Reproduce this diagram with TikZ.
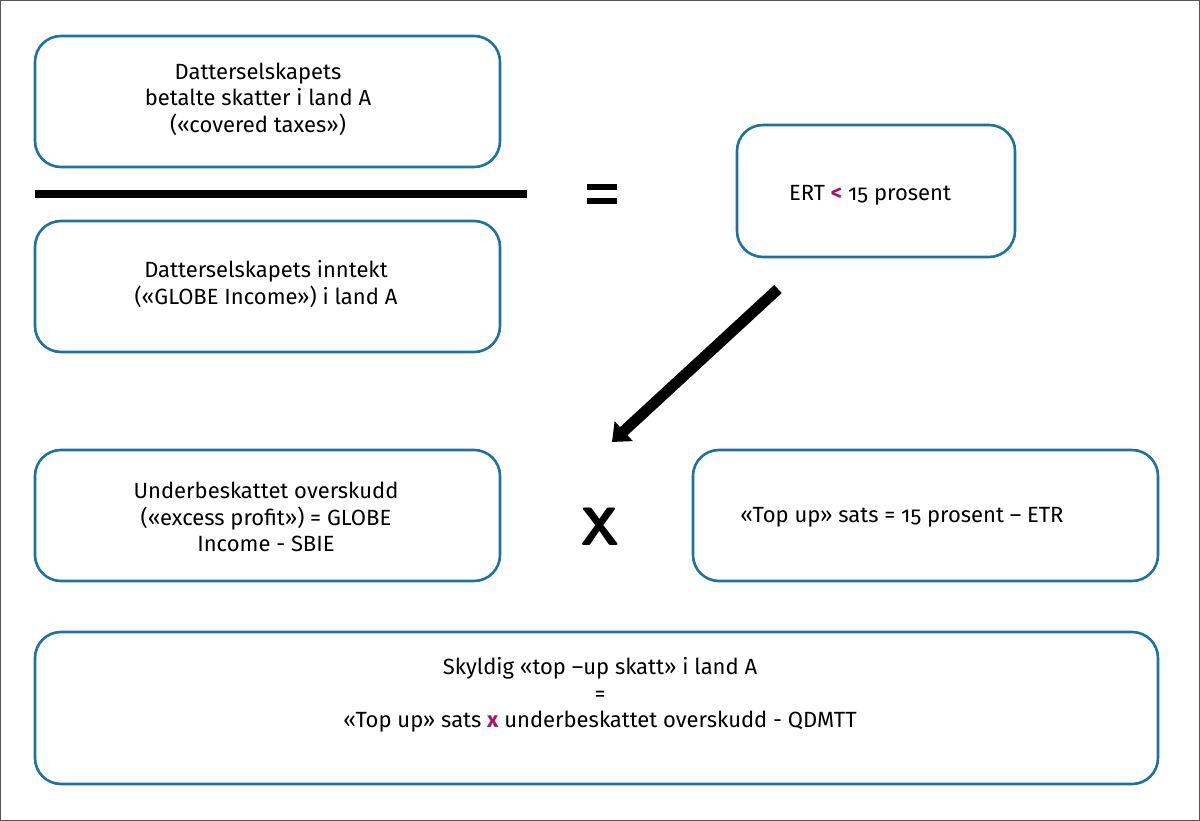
\documentclass[tikz,border=0pt]{standalone}
\usepackage{fontspec}
\setmainfont{Fira Sans}[Numbers=OldStyle]
\usetikzlibrary{arrows.meta}
\definecolor{boxblue}{HTML}{1E72A0}
\definecolor{mag}{HTML}{A3155E}
\definecolor{framegray}{HTML}{555555}
\tikzset{
  rbox/.style={draw=boxblue, line width=2.6pt, rounded corners=26pt, inner sep=0pt},
  txt/.style={align=center, font=\fontsize{22}{26.5}\selectfont, text=black},
  bigsym/.style={font=\fontsize{54}{54}\selectfont\bfseries\sffamily}
}
\begin{document}
\begin{tikzpicture}[x=1pt,y=-1pt]
\draw[framegray, line width=1.2pt] (0.6,0.6) rectangle (1199.4,820.4);
\useasboundingbox (0,0) rectangle (1200,821);
% boxes
\draw[rbox] (35,36) rectangle (500,167);
\draw[rbox] (35,221) rectangle (500,352);
\draw[rbox] (737,125) rectangle (1015,257);
\draw[rbox] (35,450) rectangle (500,581);
\draw[rbox] (693,450) rectangle (1158,581);
\draw[rbox] (35,632) rectangle (1158,784);
% texts
\node[txt] (t1) at (258,99) {Datterselskapets\\betalte skatter i land A\\(«covered taxes»)};
\node[txt] (t2) at (266,284) {Datterselskapets inntekt\\(«GLOBE Income») i land A};
\node[txt] (ert) at (870,195) {ERT {\bfseries\color{mag}<} 15 prosent};
\node[txt] (t4) at (266,517) {Underbeskattet overskudd\\(«excess profit») = GLOBE\\Income - SBIE};
\node[txt] (t5) at (902,517) {«Top up» sats = 15 prosent – ETR};
\node[txt] (t6) at (600,695) {Skyldig «top –up skatt» i land A\\=\\«Top up» sats {\bfseries\color{mag}x} underbeskattet overskudd - QDMTT};
% fraction bar
\fill[black] (35,190) rectangle (527,198);
% equals
\node (eq) at (602,194) {};
\fill[black] (587,184) rectangle (617,190);
\fill[black] (587,198) rectangle (617,204);
% times
\node[bigsym] (times) at (600,527) {X};
% arrow
\coordinate (as) at (778,289);
\coordinate (ae) at (612,442);
\draw[line width=11pt, -{Triangle[width=26pt,length=16pt]}] (as) -- (ae);
\end{tikzpicture}
\end{document}
